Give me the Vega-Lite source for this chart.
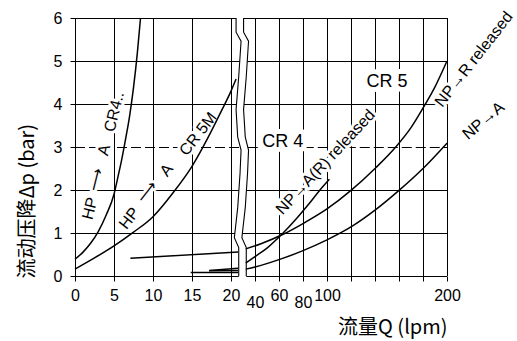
{
  "$schema": "https://vega.github.io/schema/vega-lite/v6.json",
  "width": 372,
  "height": 258,
  "autosize": {"type": "none"},
  "padding": {"left": 75, "top": 18, "right": 70, "bottom": 65},
  "background": "white",
  "config": {
    "view": {"stroke": null},
    "axis": {
      "grid": false,
      "domainColor": "black", "domainWidth": 1,
      "tickColor": "black", "tickWidth": 1, "tickSize": 5,
      "labelColor": "black", "labelFont": "Liberation Sans", "labelFontSize": 16,
      "titleColor": "black", "titleFont": "Noto Sans CJK SC", "titleFontSize": 20, "titleFontWeight": "normal",
      "labelOverlap": false, "labelFlush": false, "labelBound": false
    }
  },
  "datasets": {
    "vgrid": [
      {"q": 5, "dp": 0, "dp2": 6}, {"q": 10, "dp": 0, "dp2": 6}, {"q": 15, "dp": 0, "dp2": 6}, {"q": 20, "dp": 0, "dp2": 6},
      {"q": 40, "dp": 0, "dp2": 6}, {"q": 60, "dp": 0, "dp2": 6}, {"q": 80, "dp": 0, "dp2": 6}, {"q": 100, "dp": 0, "dp2": 6},
      {"q": 120, "dp": 0, "dp2": 6}, {"q": 140, "dp": 0, "dp2": 6}, {"q": 160, "dp": 0, "dp2": 6}, {"q": 180, "dp": 0, "dp2": 6},
      {"q": 200, "dp": 0, "dp2": 6}
    ],
    "hgrid": [
      {"dp": 0, "q": 0, "q2": 20.99}, {"dp": 0, "q": 32.72, "q2": 200},
      {"dp": 1, "q": 0, "q2": 20.5}, {"dp": 1, "q": 29.51, "q2": 200},
      {"dp": 2, "q": 0, "q2": 21.01}, {"dp": 2, "q": 32.86, "q2": 200},
      {"dp": 4, "q": 0, "q2": 20.71}, {"dp": 4, "q": 30.86, "q2": 200},
      {"dp": 5, "q": 0, "q2": 21.12}, {"dp": 5, "q": 33.55, "q2": 200},
      {"dp": 6, "q": 0, "q2": 20.65}, {"dp": 6, "q": 30.48, "q2": 200}
    ],
    "hgrid3": [{"dp": 3, "q": 0, "q2": 21.19}, {"dp": 3, "q": 33.98, "q2": 200}],
    "wave": [
      {"s": "L", "dp": 6.0, "q": 20.65}, {"s": "L", "dp": 5.67, "q": 20.65}, {"s": "L", "dp": 5.46, "q": 21.29},
      {"s": "L", "dp": 4.64, "q": 20.99}, {"s": "L", "dp": 3.87, "q": 20.65}, {"s": "L", "dp": 3.23, "q": 20.86},
      {"s": "L", "dp": 2.93, "q": 21.29}, {"s": "L", "dp": 2.39, "q": 21.16}, {"s": "L", "dp": 1.59, "q": 20.86},
      {"s": "L", "dp": 0.89, "q": 20.43}, {"s": "L", "dp": 0.66, "q": 20.99}, {"s": "L", "dp": 0.0, "q": 20.99},
      {"s": "R", "dp": 6.0, "q": 30.48}, {"s": "R", "dp": 5.67, "q": 30.48}, {"s": "R", "dp": 5.46, "q": 34.62},
      {"s": "R", "dp": 4.64, "q": 32.72}, {"s": "R", "dp": 3.87, "q": 30.48}, {"s": "R", "dp": 3.23, "q": 31.89},
      {"s": "R", "dp": 2.93, "q": 34.62}, {"s": "R", "dp": 2.39, "q": 33.79}, {"s": "R", "dp": 1.59, "q": 31.89},
      {"s": "R", "dp": 0.89, "q": 29.07}, {"s": "R", "dp": 0.66, "q": 32.72}, {"s": "R", "dp": 0.0, "q": 32.72}
    ],
    "lab1": [
      {"q": 1.94, "dp": 1.57, "t": "HP"},
      {"q": 2.71, "dp": 2.23, "t": "⟶"},
      {"q": 3.74, "dp": 2.93, "t": "A"},
      {"q": 5.03, "dp": 3.82, "t": "CR4.."}
    ],
    "lab2": [
      {"q": 6.97, "dp": 1.34, "t": "HP"},
      {"q": 9.29, "dp": 1.95, "t": "⟶"},
      {"q": 11.74, "dp": 2.46, "t": "A"},
      {"q": 15.8, "dp": 3.3, "t": "CR  5M"}
    ],
    "labcr": [
      {"q": 63.2, "dp": 3.12, "t": "CR 4"},
      {"q": 150.1, "dp": 4.52, "t": "CR 5"}
    ],
    "labar": [{"q": 98.8, "dp": 2.65, "t": "NP→A(R) released"}],
    "labr": [{"q": 222.5, "dp": 5.04, "t": "NP→R released"}],
    "laba": [{"q": 230.4, "dp": 3.61, "t": "NP→A"}],
    "curves": [
      {"s": "A", "q": 0, "dp": 0.39}, {"s": "A", "q": 1, "dp": 0.55}, {"s": "A", "q": 2, "dp": 0.76},
      {"s": "A", "q": 3, "dp": 1.04}, {"s": "A", "q": 4, "dp": 1.42}, {"s": "A", "q": 5, "dp": 1.9},
      {"s": "A", "q": 5.5, "dp": 2.3}, {"s": "A", "q": 6, "dp": 2.72}, {"s": "A", "q": 6.5, "dp": 3.2},
      {"s": "A", "q": 7, "dp": 3.72}, {"s": "A", "q": 7.5, "dp": 4.38}, {"s": "A", "q": 8, "dp": 5.2},
      {"s": "A", "q": 8.4, "dp": 6.0},
      {"s": "B", "q": 0, "dp": 0.16}, {"s": "B", "q": 2.5, "dp": 0.42}, {"s": "B", "q": 5, "dp": 0.7},
      {"s": "B", "q": 7.5, "dp": 1.02}, {"s": "B", "q": 10, "dp": 1.38}, {"s": "B", "q": 12.5, "dp": 1.92},
      {"s": "B", "q": 15, "dp": 2.55}, {"s": "B", "q": 17, "dp": 3.2}, {"s": "B", "q": 18.8, "dp": 3.85},
      {"s": "B", "q": 20, "dp": 4.3}, {"s": "B", "q": 20.65, "dp": 4.58},
      {"s": "C", "q": 7.1, "dp": 0.41}, {"s": "C", "q": 20.9, "dp": 0.56},
      {"s": "D", "q": 14.84, "dp": 0.08}, {"s": "D", "q": 20.9, "dp": 0.08},
      {"s": "E", "q": 17.2, "dp": 0.13}, {"s": "E", "q": 20.9, "dp": 0.18},
      {"s": "F", "q": 17.2, "dp": 0.12}, {"s": "F", "q": 20.9, "dp": 0.13},
      {"s": "R1", "q": 32.3, "dp": 0.3}, {"s": "R1", "q": 40, "dp": 0.45}, {"s": "R1", "q": 50, "dp": 0.65},
      {"s": "R1", "q": 63.4, "dp": 1.0}, {"s": "R1", "q": 75, "dp": 1.35}, {"s": "R1", "q": 85, "dp": 1.68},
      {"s": "R1", "q": 93.8, "dp": 1.99}, {"s": "R1", "q": 102, "dp": 2.25},
      {"s": "R2", "q": 32.3, "dp": 0.63}, {"s": "R2", "q": 45, "dp": 0.75}, {"s": "R2", "q": 63.4, "dp": 0.97},
      {"s": "R2", "q": 80, "dp": 1.22}, {"s": "R2", "q": 100, "dp": 1.56}, {"s": "R2", "q": 120, "dp": 1.99},
      {"s": "R2", "q": 140, "dp": 2.5}, {"s": "R2", "q": 157.3, "dp": 3.0}, {"s": "R2", "q": 170, "dp": 3.45},
      {"s": "R2", "q": 182, "dp": 4.0}, {"s": "R2", "q": 190, "dp": 4.4}, {"s": "R2", "q": 200, "dp": 5.0},
      {"s": "R3", "q": 32.3, "dp": 0.16}, {"s": "R3", "q": 40, "dp": 0.21}, {"s": "R3", "q": 60, "dp": 0.38},
      {"s": "R3", "q": 80, "dp": 0.59}, {"s": "R3", "q": 100, "dp": 0.84}, {"s": "R3", "q": 120, "dp": 1.14},
      {"s": "R3", "q": 140, "dp": 1.53}, {"s": "R3", "q": 160, "dp": 1.99}, {"s": "R3", "q": 180, "dp": 2.5},
      {"s": "R3", "q": 200, "dp": 3.09}
    ]
  },
  "encoding": {
    "x": {
      "field": "q", "type": "quantitative",
      "scale": {"domain": [0, 21.3, 28.45, 200], "range": [0, 166.14, 166.14, 372], "nice": false, "zero": false},
      "axis": {
        "domain": false,
        "values": [0, 5, 10, 15, 20, 40, 60, 80, 100, 120, 140, 160, 180, 200],
        "labelExpr": "indexof([120, 140, 160, 180], datum.value) >= 0 ? '' : datum.label",
        "labelPadding": {"condition": {"test": "datum.value == 40 || datum.value == 80", "value": 13}, "value": 6},
        "title": "流量Q (lpm)",
        "titleX": 372, "titleY": 51, "titleAlign": "right", "titleBaseline": "middle", "titleAnchor": null
      }
    },
    "y": {
      "field": "dp", "type": "quantitative",
      "scale": {"domain": [0, 6], "nice": false, "zero": false},
      "axis": {
        "values": [0, 1, 2, 3, 4, 5, 6],
        "labelPadding": 8,
        "title": "流动压降Δp (bar)",
        "titleAngle": -90, "titleX": -48, "titleY": 260, "titleAlign": "left", "titleBaseline": "middle", "titleAnchor": null
      }
    }
  },
  "layer": [
    {
      "data": {"name": "vgrid"},
      "mark": {"type": "rule", "color": "black", "strokeWidth": 1, "xOffset": 0.5},
      "encoding": {"y2": {"field": "dp2"}}
    },
    {
      "data": {"name": "hgrid"},
      "mark": {"type": "rule", "color": "black", "strokeWidth": 1, "yOffset": 0.5},
      "encoding": {"x2": {"field": "q2"}}
    },
    {
      "data": {"name": "hgrid3"},
      "mark": {"type": "rule", "color": "black", "strokeWidth": 1, "yOffset": 0.5, "strokeDash": [10, 4]},
      "encoding": {"x2": {"field": "q2"}}
    },
    {
      "data": {"name": "wave"},
      "mark": {"type": "line", "color": "black", "strokeWidth": 1.1},
      "encoding": {"detail": {"field": "s"}, "order": {"field": "dp", "type": "quantitative"}}
    },
    {
      "data": {"name": "lab1"},
      "encoding": {"text": {"field": "t"}},
      "layer": [
        {"mark": {"type": "text", "angle": -76, "font": "Liberation Sans", "fontSize": 16, "fill": "white", "stroke": "white", "strokeWidth": 6, "strokeJoin": "round"}},
        {"mark": {"type": "text", "angle": -76, "font": "Liberation Sans", "fontSize": 16, "fill": "black"}}
      ]
    },
    {
      "data": {"name": "lab2"},
      "encoding": {"text": {"field": "t"}},
      "layer": [
        {"mark": {"type": "text", "angle": -52, "font": "Liberation Sans", "fontSize": 16, "fill": "white", "stroke": "white", "strokeWidth": 6, "strokeJoin": "round"}},
        {"mark": {"type": "text", "angle": -52, "font": "Liberation Sans", "fontSize": 16, "fill": "black"}}
      ]
    },
    {
      "data": {"name": "labcr"},
      "encoding": {"text": {"field": "t"}},
      "layer": [
        {"mark": {"type": "text", "font": "Liberation Sans", "fontSize": 18, "fill": "white", "stroke": "white", "strokeWidth": 10, "strokeJoin": "round"}},
        {"mark": {"type": "text", "font": "Liberation Sans", "fontSize": 18, "fill": "black"}}
      ]
    },
    {
      "data": {"name": "labar"},
      "encoding": {"text": {"field": "t"}},
      "layer": [
        {"mark": {"type": "text", "angle": -47, "font": "Liberation Sans", "fontSize": 16, "fill": "white", "stroke": "white", "strokeWidth": 6, "strokeJoin": "round"}},
        {"mark": {"type": "text", "angle": -47, "font": "Liberation Sans", "fontSize": 16, "fill": "black"}}
      ]
    },
    {
      "data": {"name": "labr"},
      "encoding": {"text": {"field": "t"}},
      "layer": [
        {"mark": {"type": "text", "angle": -52, "font": "Liberation Sans", "fontSize": 16, "fill": "white", "stroke": "white", "strokeWidth": 6, "strokeJoin": "round"}},
        {"mark": {"type": "text", "angle": -52, "font": "Liberation Sans", "fontSize": 16, "fill": "black"}}
      ]
    },
    {
      "data": {"name": "laba"},
      "encoding": {"text": {"field": "t"}},
      "layer": [
        {"mark": {"type": "text", "angle": -40, "font": "Liberation Sans", "fontSize": 16, "fill": "white", "stroke": "white", "strokeWidth": 6, "strokeJoin": "round"}},
        {"mark": {"type": "text", "angle": -40, "font": "Liberation Sans", "fontSize": 16, "fill": "black"}}
      ]
    },
    {
      "data": {"name": "curves"},
      "mark": {"type": "line", "color": "black", "strokeWidth": 1.5, "interpolate": "monotone"},
      "encoding": {"detail": {"field": "s"}}
    }
  ]
}
